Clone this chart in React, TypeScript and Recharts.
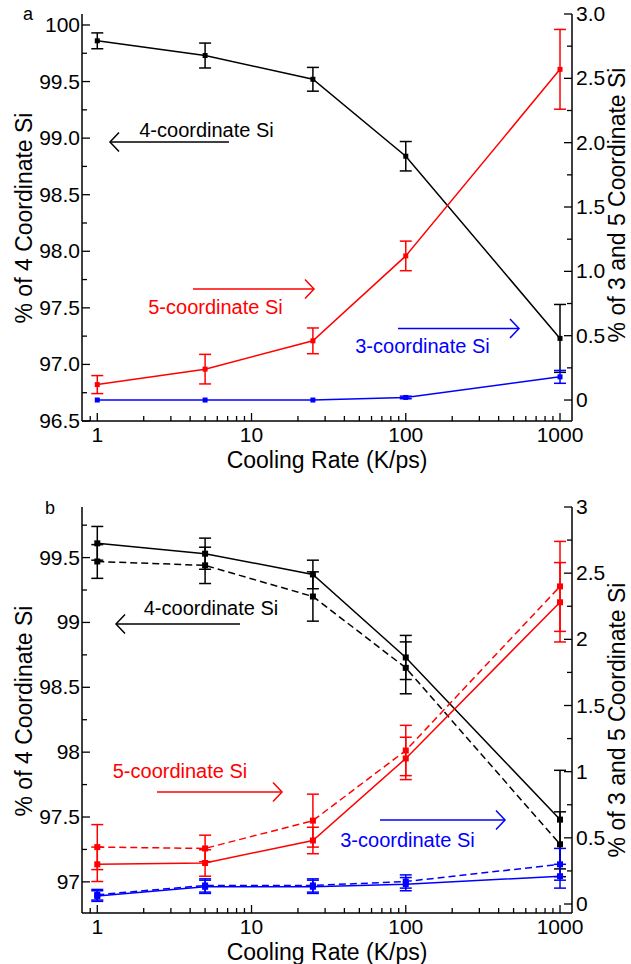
import React from 'react';
import { ComposedChart, Line, XAxis, YAxis, ErrorBar } from 'recharts';

const FONT = '"Liberation Sans", Arial, Helvetica, sans-serif';

const coolingRates = [1, 5, 25, 100, 1000];

// panel a
const fourCoordA = [99.86, 99.73, 99.52, 98.84, 97.23];
const fourCoordAErr = [0.07, 0.11, 0.105, 0.13, 0.3];
const fiveCoordA = [0.12, 0.24, 0.46, 1.12, 2.57];
const fiveCoordAErr = [0.07, 0.115, 0.1, 0.115, 0.31];
const threeCoordA = [0, 0, 0, 0.02, 0.18];
const threeCoordAErr = [0, 0, 0, 0.01, 0.05];

// panel b: solid and dashed runs
const fourCoordB = [99.61, 99.53, 99.37, 98.73, 97.48];
const fourCoordBErr = [0.13, 0.12, 0.11, 0.17, 0.38];
const fourCoordBDash = [99.47, 99.44, 99.2, 98.65, 97.29];
const fourCoordBDashErr = [0.13, 0.14, 0.19, 0.2, 0.25];
const fiveCoordB = [0.3, 0.31, 0.48, 1.1, 2.28];
const fiveCoordBErr = [0.13, 0.1, 0.1, 0.16, 0.3];
const fiveCoordBDash = [0.43, 0.42, 0.63, 1.16, 2.4];
const fiveCoordBDashErr = [0.17, 0.1, 0.2, 0.19, 0.34];
const threeCoordB = [0.06, 0.13, 0.13, 0.15, 0.21];
const threeCoordBErr = [0.04, 0.05, 0.05, 0.05, 0.09];
const threeCoordBDash = [0.07, 0.14, 0.14, 0.17, 0.3];
const threeCoordBDashErr = [0.04, 0.05, 0.05, 0.05, 0.12];

// ticks
const xMajor = [1, 10, 100, 1000];
const xMinor = [0.9, 2, 3, 4, 5, 6, 7, 8, 9, 20, 30, 40, 50, 60, 70, 80, 90, 200, 300, 400, 500, 600, 700, 800, 900];
const leftMajorA = [96.5, 97, 97.5, 98, 98.5, 99, 99.5, 100];
const leftMinorA = [96.75, 97.25, 97.75, 98.25, 98.75, 99.25, 99.75];
const leftMajorB = [97, 97.5, 98, 98.5, 99, 99.5];
const leftMinorB = [97.25, 97.75, 98.25, 98.75, 99.25, 99.75];
const rightMajor = [0, 0.5, 1, 1.5, 2, 2.5, 3];
const rightMinor = [0.25, 0.75, 1.25, 1.75, 2.25, 2.75];

const rowsA = coolingRates.map((rate, i) => ({
  rate,
  four: fourCoordA[i], fourErr: fourCoordAErr[i],
  five: fiveCoordA[i], fiveErr: fiveCoordAErr[i],
  three: threeCoordA[i], threeErr: threeCoordAErr[i],
}));

const rowsB = coolingRates.map((rate, i) => ({
  rate,
  four: fourCoordB[i], fourErr: fourCoordBErr[i],
  fourD: fourCoordBDash[i], fourDErr: fourCoordBDashErr[i],
  five: fiveCoordB[i], fiveErr: fiveCoordBErr[i],
  fiveD: fiveCoordBDash[i], fiveDErr: fiveCoordBDashErr[i],
  three: threeCoordB[i], threeErr: threeCoordBErr[i],
  threeD: threeCoordBDash[i], threeDErr: threeCoordBDashErr[i],
}));

type Geo = { left: number; right: number; top: number; bottom: number };

const TICK_FS = 21;
const MAJOR_LEN = 8;
const MINOR_LEN = 5;

function xTick(geo: Geo, onTop: boolean) {
  return (props: any) => {
    const { x, payload } = props;
    const v = payload.value;
    const major = xMajor.includes(v);
    const len = major ? MAJOR_LEN : MINOR_LEN;
    if (onTop) {
      return <line x1={x} x2={x} y1={geo.top} y2={geo.top + len} stroke="#000" strokeWidth={1.3} />;
    }
    return (
      <g>
        <line x1={x} x2={x} y1={geo.bottom} y2={geo.bottom - len} stroke="#000" strokeWidth={1.3} />
        {major && (
          <text x={x} y={geo.bottom + 21} textAnchor="middle" fontSize={TICK_FS} fontFamily={FONT} fill="#000">
            {v}
          </text>
        )}
      </g>
    );
  };
}

function yTick(geo: Geo, side: 'left' | 'right', majors: number[], fmt: (v: number) => string) {
  return (props: any) => {
    const { y, payload } = props;
    const v = payload.value;
    const major = majors.includes(v);
    const len = major ? MAJOR_LEN : MINOR_LEN;
    const x0 = side === 'left' ? geo.left : geo.right;
    const x1 = side === 'left' ? x0 + len : x0 - len;
    return (
      <g>
        <line x1={x0} x2={x1} y1={y} y2={y} stroke="#000" strokeWidth={1.3} />
        {major && (
          <text
            x={side === 'left' ? x0 - 2 : x0 + 4}
            y={y + 7}
            textAnchor={side === 'left' ? 'end' : 'start'}
            fontSize={TICK_FS}
            fontFamily={FONT}
            fill="#000"
          >
            {fmt(v)}
          </text>
        )}
      </g>
    );
  };
}

// small filled square marker
const SquareDot = (props: any) => {
  const { cx, cy, color, size = 5 } = props;
  if (cx == null || cy == null) return null;
  return <rect x={cx - size / 2} y={cy - size / 2} width={size} height={size} fill={color} />;
};

function Arrow({ x1, x2, y, color }: { x1: number; x2: number; y: number; color: string }) {
  // arrow head sits at x2
  const dir = x2 > x1 ? -1 : 1;
  return (
    <g stroke={color} strokeWidth={1.5} fill="none">
      <line x1={x1} x2={x2} y1={y} y2={y} />
      <polyline points={`${x2 + dir * 9},${y - 9.5} ${x2},${y} ${x2 + dir * 9},${y + 9.5}`} />
    </g>
  );
}

function Note({ x, y, color, children }: { x: number; y: number; color: string; children: string }) {
  return (
    <text x={x} y={y + 7} textAnchor="middle" fontSize={20} fontFamily={FONT} fill={color}>
      {children}
    </text>
  );
}

function Title({ x, y, rotate, children }: { x: number; y: number; rotate?: boolean; children: string }) {
  return (
    <text
      x={x}
      y={y}
      textAnchor="middle"
      dominantBaseline="central"
      fontSize={23}
      fontFamily={FONT}
      fill="#000"
      transform={rotate ? `rotate(-90 ${x} ${y})` : undefined}
    >
      {children}
    </text>
  );
}

const W = 631;
const axisLine = { stroke: '#000', strokeWidth: 1.5 };

function series(yAxisId: string, key: string, color: string, size: number, dashed = false) {
  return (
    <Line
      key={key}
      yAxisId={yAxisId}
      dataKey={key}
      stroke={color}
      strokeWidth={1.5}
      strokeDasharray={dashed ? '7 4' : undefined}
      dot={<SquareDot color={color} size={size} />}
      activeDot={false}
      isAnimationActive={false}
    >
      <ErrorBar dataKey={key + 'Err'} width={6} stroke={color} strokeWidth={1.5} direction="y" />
    </Line>
  );
}

function PanelA() {
  const H = 480;
  const geo: Geo = { left: 82, right: 572, top: 14, bottom: 421 };
  const fmtL = (v: number) => (v === 100 ? '100' : v.toFixed(1));
  const fmtR = (v: number) => (v === 0 ? '0' : v.toFixed(1));
  return (
    <div style={{ position: 'absolute', left: 0, top: 0, width: W, height: H }}>
      <ComposedChart width={W} height={H} data={rowsA} margin={{ top: geo.top, right: 0, bottom: 0, left: 0 }}>
        <XAxis
          dataKey="rate" type="number" scale="log" domain={[0.796, 1196]} allowDataOverflow
          ticks={[...xMajor, ...xMinor]} interval={0} height={H - geo.bottom}
          tickLine={false} tickSize={0} tickMargin={0} axisLine={axisLine} tick={xTick(geo, false)}
        />
        <XAxis
          xAxisId="top" orientation="top" dataKey="rate" type="number" scale="log" domain={[0.796, 1196]}
          allowDataOverflow ticks={[...xMajor, ...xMinor]} interval={0} height={0}
          tickLine={false} tickSize={0} tickMargin={0} axisLine={axisLine} tick={xTick(geo, true)}
        />
        <YAxis
          yAxisId="left" type="number" domain={[96.5, 100.097]} allowDataOverflow
          ticks={[...leftMajorA, ...leftMinorA]} interval={0} width={geo.left}
          tickLine={false} tickSize={0} tickMargin={0} axisLine={axisLine} tick={yTick(geo, 'left', leftMajorA, fmtL)}
        />
        <YAxis
          yAxisId="right" orientation="right" type="number" domain={[-0.163, 3]} allowDataOverflow
          ticks={[...rightMajor, ...rightMinor]} interval={0} width={W - geo.right}
          tickLine={false} tickSize={0} tickMargin={0} axisLine={axisLine} tick={yTick(geo, 'right', rightMajor, fmtR)}
        />
        {series('left', 'four', '#000', 5)}
        {series('right', 'five', '#ff0000', 5)}
        {series('right', 'three', '#0000ff', 5)}
      </ComposedChart>
      <svg width={W} height={H} style={{ position: 'absolute', left: 0, top: 0, pointerEvents: 'none' }}>
        <text x={28} y={20} textAnchor="middle" fontSize={18} fontFamily={FONT}>a</text>
        <Title x={24} y={218} rotate>% of 4 Coordinate Si</Title>
        <Title x={617} y={205} rotate>% of 3 and 5 Coordinate Si</Title>
        <Title x={327} y={460}>Cooling Rate (K/ps)</Title>
        <Note x={206.5} y={130} color="#000">4-coordinate Si</Note>
        <Arrow x1={229} x2={110} y={142} color="#000" />
        <Note x={215.5} y={307} color="#ff0000">5-coordinate Si</Note>
        <Arrow x1={193} x2={314} y={289} color="#ff0000" />
        <Note x={422.5} y={346} color="#0000ff">3-coordinate Si</Note>
        <Arrow x1={398} x2={519} y={328.5} color="#0000ff" />
      </svg>
    </div>
  );
}

function PanelB() {
  const H = 484;
  const geo: Geo = { left: 82, right: 572, top: 27, bottom: 433 };
  const fmt = (v: number) => String(v);
  return (
    <div style={{ position: 'absolute', left: 0, top: 480, width: W, height: H }}>
      <ComposedChart width={W} height={H} data={rowsB} margin={{ top: geo.top, right: 0, bottom: 0, left: 0 }}>
        <XAxis
          dataKey="rate" type="number" scale="log" domain={[0.796, 1196]} allowDataOverflow
          ticks={[...xMajor, ...xMinor]} interval={0} height={H - geo.bottom}
          tickLine={false} tickSize={0} tickMargin={0} axisLine={axisLine} tick={xTick(geo, false)}
        />
        <XAxis
          xAxisId="top" orientation="top" dataKey="rate" type="number" scale="log" domain={[0.796, 1196]}
          allowDataOverflow ticks={[...xMajor, ...xMinor]} interval={0} height={0}
          tickLine={false} tickSize={0} tickMargin={0} axisLine={axisLine} tick={xTick(geo, true)}
        />
        <YAxis
          yAxisId="left" type="number" domain={[96.76, 99.89]} allowDataOverflow
          ticks={[...leftMajorB, ...leftMinorB]} interval={0} width={geo.left}
          tickLine={false} tickSize={0} tickMargin={0} axisLine={axisLine} tick={yTick(geo, 'left', leftMajorB, fmt)}
        />
        <YAxis
          yAxisId="right" orientation="right" type="number" domain={[-0.068, 3]} allowDataOverflow
          ticks={[...rightMajor, ...rightMinor]} interval={0} width={W - geo.right}
          tickLine={false} tickSize={0} tickMargin={0} axisLine={axisLine} tick={yTick(geo, 'right', rightMajor, fmt)}
        />
        {series('left', 'fourD', '#000', 6, true)}
        {series('left', 'four', '#000', 6)}
        {series('right', 'fiveD', '#ff0000', 6, true)}
        {series('right', 'five', '#ff0000', 6)}
        {series('right', 'threeD', '#0000ff', 6, true)}
        {series('right', 'three', '#0000ff', 6)}
      </ComposedChart>
      <svg width={W} height={H} style={{ position: 'absolute', left: 0, top: 0, pointerEvents: 'none' }}>
        <text x={50} y={34} textAnchor="middle" fontSize={18} fontFamily={FONT}>b</text>
        <Title x={24} y={231} rotate>% of 4 Coordinate Si</Title>
        <Title x={617} y={240} rotate>% of 3 and 5 Coordinate Si</Title>
        <Title x={327} y={472}>Cooling Rate (K/ps)</Title>
        <Note x={211} y={128} color="#000">4-coordinate Si</Note>
        <Arrow x1={240} x2={116} y={144} color="#000" />
        <Note x={180} y={291} color="#ff0000">5-coordinate Si</Note>
        <Arrow x1={157} x2={282} y={312} color="#ff0000" />
        <Note x={407.5} y={360} color="#0000ff">3-coordinate Si</Note>
        <Arrow x1={380} x2={505} y={340} color="#0000ff" />
      </svg>
    </div>
  );
}

export default function App() {
  return (
    <div style={{ position: 'absolute', left: 0, top: 0, width: W, height: 964, background: '#fff' }}>
      <PanelA />
      <PanelB />
    </div>
  );
}
